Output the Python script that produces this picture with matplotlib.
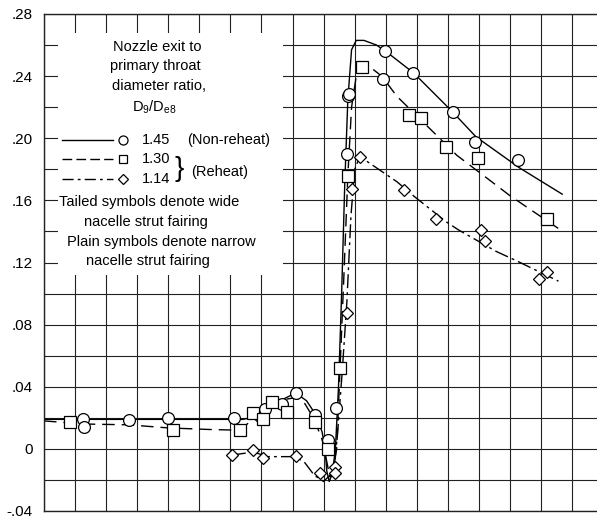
import matplotlib
matplotlib.use("Agg")
import matplotlib.pyplot as plt
from matplotlib.patches import Rectangle
import numpy as np

plt.rcParams['font.family'] = ['Liberation Sans', 'DejaVu Sans']

# x is in grid units (no x scale is printed on the original)
# D9/De8 = 1.45, non-reheat (circles, solid faired line)
c145_x = [1.27, 1.30, 2.74, 3.99, 6.13, 6.95, 7.12, 7.65, 8.11, 8.72, 9.15, 9.40,
          9.74, 9.80, 9.83, 10.90, 10.98, 11.87, 13.15, 13.88, 15.27]
c145_y = [0.019, 0.014, 0.0187, 0.020, 0.020, 0.021, 0.0256, 0.029, 0.036, 0.022, 0.0058, 0.026,
          0.190, 0.227, 0.2285, 0.238, 0.256, 0.242, 0.2166, 0.1976, 0.186]
f145_x = [0, 6.4, 6.9, 7.3, 7.7, 8.1, 8.45, 8.75, 8.95, 9.05, 9.1, 9.18, 9.28, 9.38,
          9.48, 9.58, 9.68, 9.78, 9.9, 10.05, 10.3, 10.7, 11.0, 11.9, 13.15, 13.9, 15.3, 16.68]
f145_y = [0.019, 0.019, 0.021, 0.026, 0.032, 0.036, 0.031, 0.022, 0.011, 0.0, -0.014, -0.021, -0.016, 0.0,
          0.04, 0.10, 0.17, 0.225, 0.257, 0.263, 0.263, 0.260, 0.256, 0.242, 0.217, 0.201, 0.181, 0.164]

# D9/De8 = 1.30, reheat (squares, dashed faired line)
s130_x = [0.84, 4.15, 6.32, 6.74, 7.06, 7.33, 7.81, 8.72, 9.15, 9.53, 9.78,
          10.25, 11.76, 12.13, 12.93, 13.98, 16.2]
s130_y = [0.0174, 0.0123, 0.012, 0.023, 0.019, 0.0305, 0.024, 0.017, 0.0, 0.052, 0.176,
          0.246, 0.215, 0.213, 0.1946, 0.187, 0.148]
f130_x = [0, 1.3, 2.7, 4.0, 5.3, 6.3, 6.6, 7.0, 7.4, 7.8, 8.1, 8.4, 8.7, 8.95, 9.1, 9.2,
          9.3, 9.42, 9.53, 9.65, 9.78, 9.9, 10.05, 10.25, 10.55, 10.87, 11.36, 12.53, 13.29,
          14.41, 15.0, 16.55]
f130_y = [0.018, 0.016, 0.0155, 0.0135, 0.0125, 0.012, 0.017, 0.023, 0.029, 0.032, 0.033, 0.029,
          0.019, 0.006, -0.008, -0.018, -0.015, 0.0, 0.052, 0.11, 0.176, 0.220, 0.240, 0.247,
          0.245, 0.240, 0.227, 0.204, 0.189, 0.172, 0.163, 0.142]

# D9/De8 = 1.14, reheat (diamonds, dash-dot faired line)
d114_x = [6.05, 6.74, 7.05, 8.11, 8.89, 9.37, 9.37, 9.75, 9.90, 10.18, 11.60, 12.62,
          14.07, 14.18, 15.94, 16.2]
d114_y = [-0.004, -0.001, -0.006, -0.0045, -0.0157, -0.0114, -0.0157, 0.0875, 0.1675, 0.188,
          0.1667, 0.148, 0.141, 0.134, 0.1095, 0.114]
f114_x = [6.05, 6.74, 7.2, 8.1, 8.4, 8.7, 9.0, 9.2, 9.35, 9.45, 9.6, 9.75, 9.88, 10.0,
          10.18, 10.33, 11.36, 11.95, 12.96, 13.34, 14.57, 15.22, 16.56]
f114_y = [-0.004, -0.002, -0.005, -0.005, -0.009, -0.017, -0.021, -0.017, -0.01, 0.01, 0.05,
          0.095, 0.150, 0.180, 0.189, 0.186, 0.172, 0.162, 0.146, 0.141, 0.127, 0.121, 0.108]

ytick_vals = [-0.04, 0.0, 0.04, 0.08, 0.12, 0.16, 0.20, 0.24, 0.28]
ytick_text = ['-.04', '0', '.04', '.08', '.12', '.16', '.20', '.24', '.28']

fig = plt.figure(figsize=(5.97, 5.22), dpi=100)
ax = fig.add_axes([44 / 597, 11 / 522, 553 / 597, 497 / 522])
ax.set_xlim(0, 17.8)
ax.set_ylim(-0.04, 0.28)

# grid
ax.set_xticks(np.arange(0, 18, 1))
ax.set_yticks(np.arange(-0.04, 0.2801, 0.02))
ax.grid(True, color='#222222', lw=0.8)
ax.set_axisbelow(True)
ax.tick_params(length=0, labelbottom=False)
ylabels = []
for v in np.arange(-0.04, 0.2801, 0.02):
    lab = ''
    for tv, tt in zip(ytick_vals, ytick_text):
        if abs(v - tv) < 1e-6:
            lab = tt
    ylabels.append(lab)
ax.set_yticklabels(ylabels, fontsize=11)
ax.tick_params(axis='y', pad=8)
ax.spines['right'].set_visible(False)
for s in ['left', 'top', 'bottom']:
    ax.spines[s].set_linewidth(1.0)
    ax.spines[s].set_color('#222222')

# white legend area
ax.add_patch(Rectangle((0.45, 0.112), 7.25, 0.156, facecolor='white',
                       edgecolor='none', zorder=1))

lw = 1.0
ax.plot(f145_x, f145_y, '-', color='k', lw=lw, zorder=2)
ax.plot(f130_x, f130_y, color='k', lw=lw, dashes=(9, 5), zorder=2)
ax.plot(f114_x, f114_y, color='k', lw=lw, dashes=(10, 3, 2, 3), zorder=2)

mk = dict(ls='none', mfc='white', mec='k', mew=0.9, zorder=3)
ax.plot(c145_x, c145_y, marker='o', ms=8.5, **mk)
ax.plot(s130_x, s130_y, marker='s', ms=8, **mk)
ax.plot(d114_x, d114_y, marker='D', ms=6.5, **mk)

# legend text block
fs = 10.5
txt = dict(fontsize=fs, ha='center', va='center', zorder=4)
ax.text(3.65, 0.259, 'Nozzle exit to', **txt)
ax.text(3.57, 0.2465, 'primary throat', **txt)
ax.text(3.70, 0.2335, 'diameter ratio,', **txt)
ax.text(3.54, 0.220, r'$\mathregular{D_9/D_{e8}}$', **txt)

rows_y = [0.1987, 0.1865, 0.174]
ax.plot([0.58, 2.22], [rows_y[0]] * 2, '-', color='k', lw=lw, zorder=4)
ax.plot([0.58, 2.22], [rows_y[1]] * 2, color='k', lw=lw, dashes=(7, 3), zorder=4)
ax.plot([0.58, 2.22], [rows_y[2]] * 2, color='k', lw=lw, dashes=(8, 3, 2, 3), zorder=4)
lm = dict(ls='none', mfc='white', mec='k', mew=0.9, zorder=5)
ax.plot([2.54], [rows_y[0]], marker='o', ms=6.5, **lm)
ax.plot([2.54], [rows_y[1]], marker='s', ms=6, **lm)
ax.plot([2.54], [rows_y[2]], marker='D', ms=5, **lm)
ltxt = dict(fontsize=fs, ha='left', va='center', zorder=5)
ax.text(3.15, rows_y[0], '1.45', **ltxt)
ax.text(3.15, rows_y[1], '1.30', **ltxt)
ax.text(3.15, rows_y[2], '1.14', **ltxt)
ax.text(4.62, rows_y[0], '(Non-reheat)', **ltxt)
ax.text(4.2, 0.1803, '}', fontsize=20, ha='left', va='center', zorder=5,
        fontweight='light')
ax.text(4.72, 0.178, '(Reheat)', **ltxt)

ax.text(3.38, 0.159, 'Tailed symbols denote wide', **txt)
ax.text(3.28, 0.146, 'nacelle strut fairing', **txt)
ax.text(3.77, 0.133, 'Plain symbols denote narrow', **txt)
ax.text(3.35, 0.121, 'nacelle strut fairing', **txt)

fig.savefig('out.png', dpi=100)
